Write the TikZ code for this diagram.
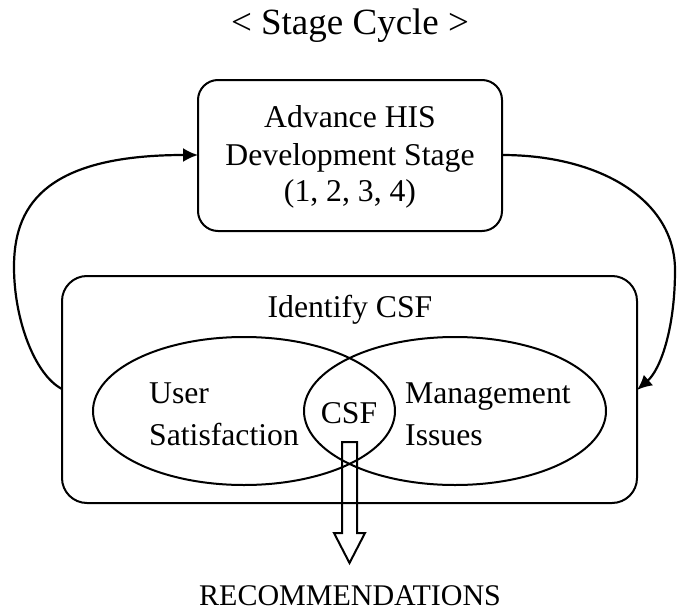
\documentclass[tikz,border=0pt]{standalone}
\usepackage{fontspec}
\setmainfont{Liberation Serif}
\usetikzlibrary{arrows.meta,shapes.geometric}
\tikzset{
  box/.style={draw,line width=2pt,rounded corners=#1,inner sep=0pt},
  venn/.style={draw,line width=2pt,ellipse,inner sep=0pt,minimum width=302pt,minimum height=148pt},
  txt/.style={font=\fontsize{31.7}{37}\selectfont,inner sep=0pt,anchor=base},
  txtl/.style={txt,anchor=base west},
  cycle/.style={line width=2.2pt,-{Latex[length=15pt,width=14pt]}},
  hollow/.style={draw,line width=2pt,line join=miter}
}
\begin{document}
\begin{tikzpicture}[x=1pt,y=-1pt]
\useasboundingbox (0,0) rectangle (677,610);
\node[txt,font=\fontsize{37}{40}\selectfont] (title) at (350,35) {< Stage Cycle >};
\node[box=20pt,minimum width=304pt,minimum height=151pt] (stage) at (350,155.5) {};
\node[txt] (l1) at (350,127) {Advance HIS};
\node[txt] (l2) at (350,165) {Development Stage};
\node[txt] (l3) at (350,201) {(1, 2, 3, 4)};
\node[box=25pt,minimum width=575pt,minimum height=227pt] (csfbox) at (349.5,389.5) {};
\node[txt] (ident) at (350,317) {Identify CSF};
\node[venn] (left) at (244,411) {};
\node[venn] (right) at (455,411) {};
\node[txtl] (user) at (149,403) {User};
\node[txtl] (sat) at (149,445) {Satisfaction};
\node[txtl] (mgmt) at (405,403) {Management};
\node[txtl] (iss) at (405,445) {Issues};
\node[txt] (csf) at (349,423) {CSF};
\node[txt,font=\fontsize{30}{34}\selectfont] (rec) at (350,605) {RECOMMENDATIONS};
\coordinate (ltop) at (198,155);
\coordinate (lbot) at (62,389);
\coordinate (rtop) at (502,155);
\coordinate (rbot) at (637,390);
\draw[cycle] (lbot) .. controls (35,375) and (14,320) .. (14,267)
  .. controls (14,210) and (40,155) .. (ltop);
\draw[cycle] (rtop) .. controls (600,155) and (675,200) .. (675,270)
  .. controls (675,330) and (660,370) .. (rbot);
\coordinate (ha) at (342,442);
\draw[hollow] (ha) -- ++(0,91) -- ++(-8,0) -- ++(15.5,30) -- ++(15.5,-30)
  -- ++(-8,0) -- ++(0,-91) -- cycle;
\end{tikzpicture}
\end{document}
